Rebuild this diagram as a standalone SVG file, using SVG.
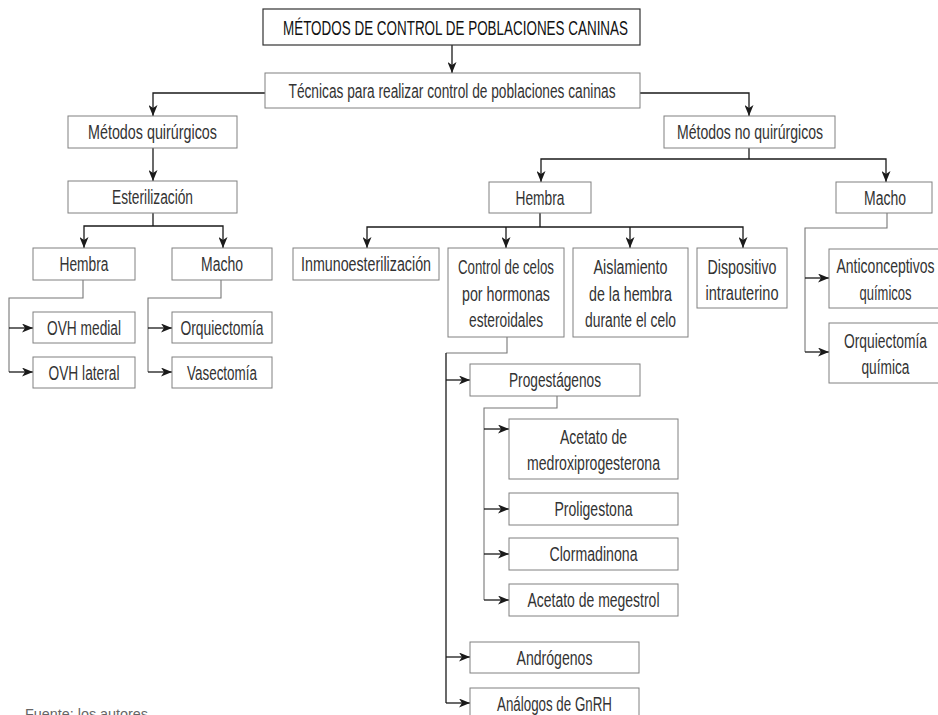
<svg xmlns="http://www.w3.org/2000/svg" width="938" height="715" viewBox="0 0 938 715">
<style>
  .box { fill: #ffffff; stroke: #808080; stroke-width: 1; }
  .tbox { fill: #ffffff; stroke: #333333; stroke-width: 1.2; }
  text { font-family: "Liberation Sans Narrow", "Liberation Sans", Arial, sans-serif; font-size: 20px; fill: #333333; text-anchor: middle; }
  .title { fill: #111111; }
  .src { font-size: 15px; fill: #666666; text-anchor: start; }
  .ln { fill: none; stroke: #1a1a1a; stroke-width: 1.3; }
  .bus { fill: none; stroke: #777777; stroke-width: 1.1; }
</style>
<defs>
  <marker id="ah" viewBox="0 0 11 9" refX="11" refY="4.5" markerWidth="11" markerHeight="9" markerUnits="userSpaceOnUse" orient="auto">
    <path d="M0,0 L11,4.5 L0,9 L3,4.5 Z" fill="#1a1a1a"/>
  </marker>
</defs>
<rect width="938" height="715" fill="#ffffff"/>

<g id="connectors">
  <path class="ln" d="M452,45 V73" marker-end="url(#ah)"/>
  <path class="ln" d="M265,93 H153 V116" marker-end="url(#ah)"/>
  <path class="ln" d="M640,93 H749 V116" marker-end="url(#ah)"/>
  <path class="ln" d="M153,148 V181" marker-end="url(#ah)"/>
  <path class="ln" d="M153,213 V226"/>
  <path class="ln" d="M153,226 H84 V248" marker-end="url(#ah)"/>
  <path class="ln" d="M153,226 H223 V248" marker-end="url(#ah)"/>
  <path class="bus" d="M83,280 V298 H9 V372"/>
  <path class="ln" d="M9,328 H33" marker-end="url(#ah)"/>
  <path class="ln" d="M9,372 H33" marker-end="url(#ah)"/>
  <path class="bus" d="M221,280 V298 H148 V372"/>
  <path class="ln" d="M148,328 H172" marker-end="url(#ah)"/>
  <path class="ln" d="M148,372 H172" marker-end="url(#ah)"/>
  <path class="ln" d="M749,148 V159"/>
  <path class="ln" d="M749,159 H541 V182" marker-end="url(#ah)"/>
  <path class="ln" d="M749,159 H886 V182" marker-end="url(#ah)"/>
  <path class="ln" d="M540,213 V227"/>
  <path class="ln" d="M540,227 H367 V248" marker-end="url(#ah)"/>
  <path class="ln" d="M506,227 V248" marker-end="url(#ah)"/>
  <path class="ln" d="M540,227 H743 V248" marker-end="url(#ah)"/>
  <path class="ln" d="M630,227 V248" marker-end="url(#ah)"/>
  <path class="bus" d="M887,213 V228 H805 V352"/>
  <path class="ln" d="M805,278 H829" marker-end="url(#ah)"/>
  <path class="ln" d="M805,352 H829" marker-end="url(#ah)"/>
  <path class="bus" d="M507,337 V353 H446"/>
  <path class="ln" d="M446,353 V703"/>
  <path class="ln" d="M446,380 H470" marker-end="url(#ah)"/>
  <path class="ln" d="M446,657 H470" marker-end="url(#ah)"/>
  <path class="ln" d="M446,703 H470" marker-end="url(#ah)"/>
  <path class="bus" d="M557,396 V408 H484 V600"/>
  <path class="ln" d="M484,429 H509" marker-end="url(#ah)"/>
  <path class="ln" d="M484,509 H509" marker-end="url(#ah)"/>
  <path class="ln" d="M484,554 H509" marker-end="url(#ah)"/>
  <path class="ln" d="M484,600 H509" marker-end="url(#ah)"/>
</g>

<g id="n-title"><rect class="tbox" x="263" y="9" width="377" height="36"/><text class="title" x="455.5" y="34.5" textLength="345" lengthAdjust="spacingAndGlyphs">MÉTODOS DE CONTROL DE POBLACIONES CANINAS</text></g>
<g id="n-tecnicas"><rect class="box" x="265" y="73" width="375" height="35"/><text x="452" y="97.5" textLength="327" lengthAdjust="spacingAndGlyphs">Técnicas para realizar control de poblaciones caninas</text></g>
<g id="n-mq"><rect class="box" x="68" y="116" width="169" height="32"/><text x="152.5" y="139" textLength="129" lengthAdjust="spacingAndGlyphs">Métodos quirúrgicos</text></g>
<g id="n-mnq"><rect class="box" x="664" y="116" width="171" height="32"/><text x="750" y="139" textLength="146" lengthAdjust="spacingAndGlyphs">Métodos no quirúrgicos</text></g>
<g id="n-est"><rect class="box" x="68" y="181" width="169" height="32"/><text x="152.5" y="204" textLength="81" lengthAdjust="spacingAndGlyphs">Esterilización</text></g>
<g id="n-hembra-q"><rect class="box" x="33" y="248" width="102" height="32"/><text x="84" y="271" textLength="49" lengthAdjust="spacingAndGlyphs">Hembra</text></g>
<g id="n-macho-q"><rect class="box" x="172" y="248" width="100" height="32"/><text x="222" y="271" textLength="42" lengthAdjust="spacingAndGlyphs">Macho</text></g>
<g id="n-ovhm"><rect class="box" x="33" y="312" width="102" height="31"/><text x="84" y="334.5" textLength="74" lengthAdjust="spacingAndGlyphs">OVH medial</text></g>
<g id="n-ovhl"><rect class="box" x="33" y="357" width="102" height="31"/><text x="84" y="379.5" textLength="71" lengthAdjust="spacingAndGlyphs">OVH lateral</text></g>
<g id="n-orq"><rect class="box" x="172" y="312" width="100" height="31"/><text x="222" y="334.5" textLength="83" lengthAdjust="spacingAndGlyphs">Orquiectomía</text></g>
<g id="n-vas"><rect class="box" x="172" y="357" width="100" height="31"/><text x="222" y="379.5" textLength="70" lengthAdjust="spacingAndGlyphs">Vasectomía</text></g>
<g id="n-hembra-nq"><rect class="box" x="489" y="182" width="102" height="31"/><text x="540" y="204.5" textLength="49" lengthAdjust="spacingAndGlyphs">Hembra</text></g>
<g id="n-macho-nq"><rect class="box" x="836" y="182" width="96" height="31"/><text x="885" y="204.5" textLength="42" lengthAdjust="spacingAndGlyphs">Macho</text></g>
<g id="n-inmuno"><rect class="box" x="293" y="248" width="146" height="32"/><text x="366" y="271" textLength="130" lengthAdjust="spacingAndGlyphs">Inmunoesterilización</text></g>
<g id="n-control"><rect class="box" x="448" y="248" width="116" height="89"/>
  <text x="506" y="274" textLength="96" lengthAdjust="spacingAndGlyphs">Control de celos</text>
  <text x="506" y="300.5" textLength="88" lengthAdjust="spacingAndGlyphs">por hormonas</text>
  <text x="506" y="327" textLength="74" lengthAdjust="spacingAndGlyphs">esteroidales</text></g>
<g id="n-aisl"><rect class="box" x="573" y="248" width="115" height="89"/>
  <text x="630.5" y="274" textLength="74" lengthAdjust="spacingAndGlyphs">Aislamiento</text>
  <text x="630.5" y="300.5" textLength="83" lengthAdjust="spacingAndGlyphs">de la hembra</text>
  <text x="630.5" y="327" textLength="91" lengthAdjust="spacingAndGlyphs">durante el celo</text></g>
<g id="n-disp"><rect class="box" x="697" y="248" width="90" height="60"/>
  <text x="742" y="273.5" textLength="69" lengthAdjust="spacingAndGlyphs">Dispositivo</text>
  <text x="742" y="300" textLength="73" lengthAdjust="spacingAndGlyphs">intrauterino</text></g>
<g id="n-anti"><rect class="box" x="829" y="249" width="112" height="59"/>
  <text x="885.5" y="273" textLength="98" lengthAdjust="spacingAndGlyphs">Anticonceptivos</text>
  <text x="885.5" y="299.5" textLength="52" lengthAdjust="spacingAndGlyphs">químicos</text></g>
<g id="n-orqq"><rect class="box" x="829" y="323" width="112" height="60"/>
  <text x="885.5" y="347.5" textLength="83" lengthAdjust="spacingAndGlyphs">Orquiectomía</text>
  <text x="885.5" y="374" textLength="48" lengthAdjust="spacingAndGlyphs">química</text></g>
<g id="n-prog"><rect class="box" x="470" y="364" width="170" height="32"/><text x="555" y="387" textLength="92" lengthAdjust="spacingAndGlyphs">Progestágenos</text></g>
<g id="n-amp"><rect class="box" x="509" y="419" width="169" height="60"/>
  <text x="593.5" y="443.5" textLength="67" lengthAdjust="spacingAndGlyphs">Acetato de</text>
  <text x="593.5" y="470" textLength="133" lengthAdjust="spacingAndGlyphs">medroxiprogesterona</text></g>
<g id="n-prol"><rect class="box" x="509" y="493" width="169" height="32"/><text x="593.5" y="516" textLength="78" lengthAdjust="spacingAndGlyphs">Proligestona</text></g>
<g id="n-clor"><rect class="box" x="509" y="538" width="169" height="32"/><text x="593.5" y="561" textLength="88" lengthAdjust="spacingAndGlyphs">Clormadinona</text></g>
<g id="n-ameg"><rect class="box" x="509" y="584" width="169" height="32"/><text x="593.5" y="607" textLength="132" lengthAdjust="spacingAndGlyphs">Acetato de megestrol</text></g>
<g id="n-andr"><rect class="box" x="470" y="642" width="169" height="31"/><text x="554.5" y="664.5" textLength="76" lengthAdjust="spacingAndGlyphs">Andrógenos</text></g>
<g id="n-anal"><rect class="box" x="470" y="688" width="169" height="32"/><text x="554.5" y="711" textLength="115" lengthAdjust="spacingAndGlyphs">Análogos de GnRH</text></g>

<text class="src" x="25" y="719" textLength="123" lengthAdjust="spacingAndGlyphs">Fuente: los autores</text>
</svg>
